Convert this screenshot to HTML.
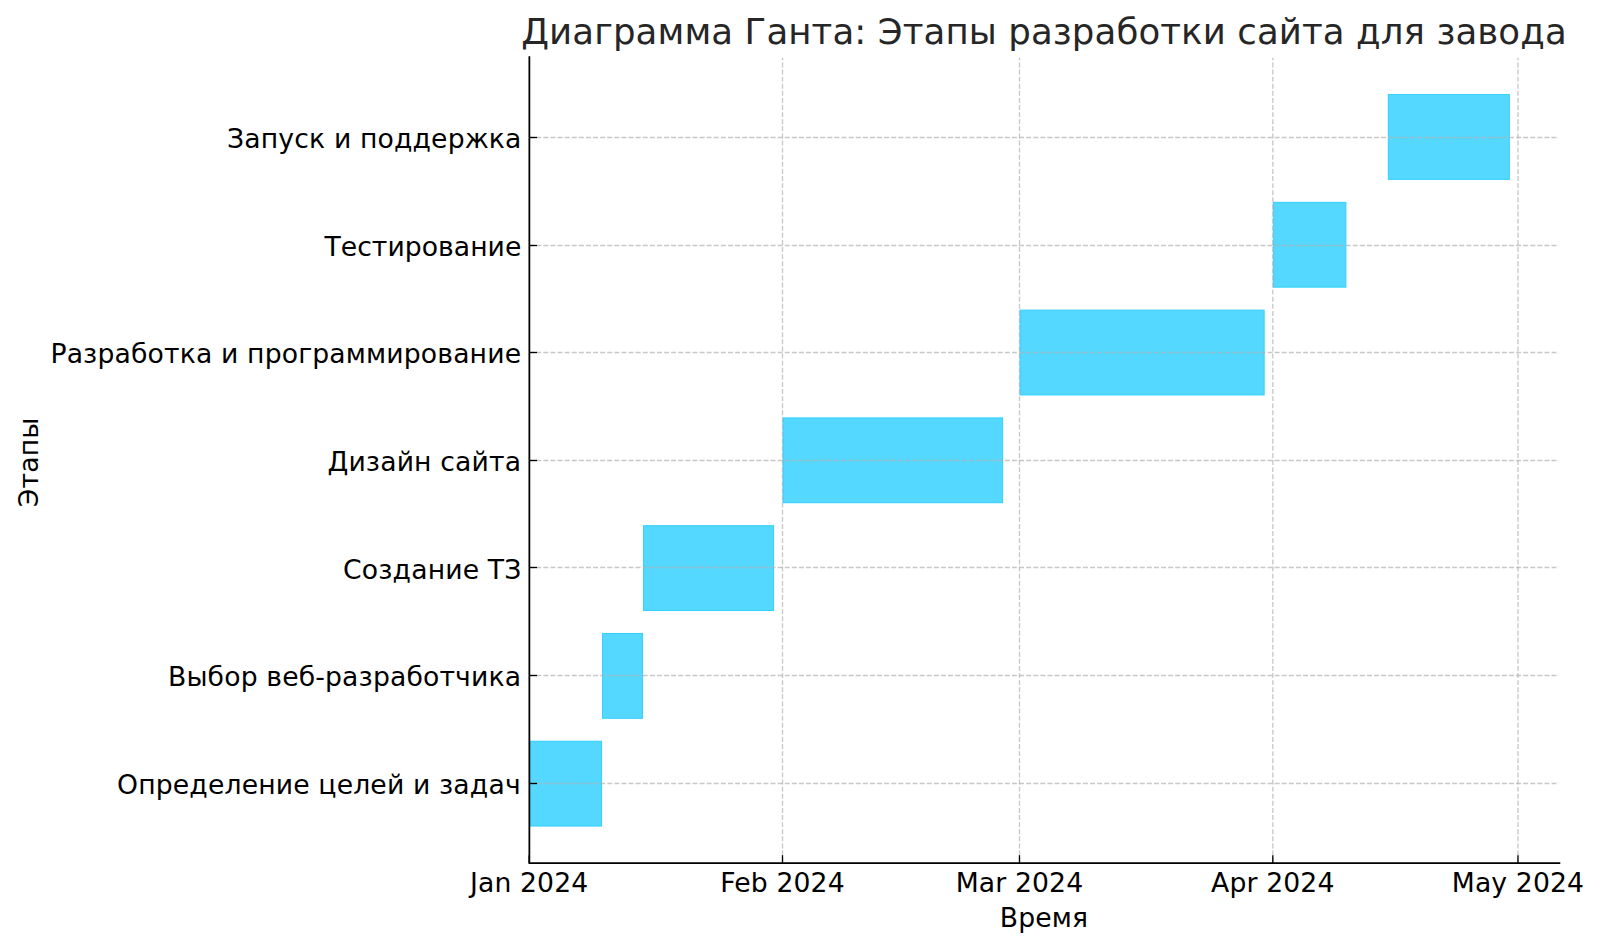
<!DOCTYPE html>
<html lang="ru"><head><meta charset="utf-8"><title>Диаграмма Ганта</title>
<style>
html,body{margin:0;padding:0;background:#fff;}
body{width:1600px;height:949px;overflow:hidden;}
svg{display:block;}
text{font-family:"DejaVu Sans","Liberation Sans",sans-serif;}
.tk{font-size:26.67px;fill:#000;letter-spacing:0.12px;}
.yl text{letter-spacing:0.14px;}
.ttl{font-size:35.56px;fill:#262626;letter-spacing:0.1px;}
.grid{stroke:#b0b0b0;stroke-opacity:.7;stroke-width:1.33;stroke-dasharray:4.95 2.15;fill:none;}
.ax{stroke:#000;stroke-width:1.78;fill:none;stroke-linecap:square;}
.tick{stroke:#000;stroke-width:1.33;fill:none;}
.bar{fill:#55d8ff;stroke:#30d0ff;stroke-width:1;}
</style></head><body>
<svg width="1600" height="949" viewBox="0 0 1600 949">
<rect width="1600" height="949" fill="#ffffff"/>

<g class="bar">
<rect x="529.67" y="741.25" width="71.89" height="84.80"/>
<rect x="602.56" y="633.47" width="40.02" height="84.80"/>
<rect x="643.59" y="525.69" width="130.00" height="84.80"/>
<rect x="783.00" y="417.91" width="219.64" height="84.80"/>
<rect x="1019.99" y="310.13" width="244.16" height="84.80"/>
<rect x="1273.32" y="202.35" width="72.55" height="84.80"/>
<rect x="1388.30" y="94.57" width="121.01" height="84.80"/>
</g>
<g class="grid">
<line x1="782.50" y1="862.6" x2="782.50" y2="57.8"/>
<line x1="1019.49" y1="862.6" x2="1019.49" y2="57.8"/>
<line x1="1272.82" y1="862.6" x2="1272.82" y2="57.8"/>
<line x1="1517.98" y1="862.6" x2="1517.98" y2="57.8"/>
<line x1="529.17" y1="783.50" x2="1558.9" y2="783.50"/>
<line x1="529.17" y1="675.50" x2="1558.9" y2="675.50"/>
<line x1="529.17" y1="567.50" x2="1558.9" y2="567.50"/>
<line x1="529.17" y1="460.50" x2="1558.9" y2="460.50"/>
<line x1="529.17" y1="352.50" x2="1558.9" y2="352.50"/>
<line x1="529.17" y1="245.50" x2="1558.9" y2="245.50"/>
<line x1="529.17" y1="137.50" x2="1558.9" y2="137.50"/>
</g>
<g class="tick">
<line x1="529.17" y1="863.1" x2="529.17" y2="855.20"/>
<line x1="782.50" y1="863.1" x2="782.50" y2="855.20"/>
<line x1="1019.49" y1="863.1" x2="1019.49" y2="855.20"/>
<line x1="1272.82" y1="863.1" x2="1272.82" y2="855.20"/>
<line x1="1517.98" y1="863.1" x2="1517.98" y2="855.20"/>
<line x1="529.17" y1="783.50" x2="537.07" y2="783.50"/>
<line x1="529.17" y1="675.50" x2="537.07" y2="675.50"/>
<line x1="529.17" y1="567.50" x2="537.07" y2="567.50"/>
<line x1="529.17" y1="460.50" x2="537.07" y2="460.50"/>
<line x1="529.17" y1="352.50" x2="537.07" y2="352.50"/>
<line x1="529.17" y1="245.50" x2="537.07" y2="245.50"/>
<line x1="529.17" y1="137.50" x2="537.07" y2="137.50"/>
</g>
<path class="ax" d="M529.37 57.10 V863.1 H1559.4"/>
<g class="tk yl" text-anchor="end">
<text x="520.8" y="794">Определение целей и задач</text>
<text x="521.2" y="686">Выбор веб-разработчика</text>
<text x="521.5" y="579">Создание ТЗ</text>
<text x="521.2" y="471">Дизайн сайта</text>
<text x="521.2" y="363">Разработка и программирование</text>
<text x="521.4" y="256" style="letter-spacing:0.03px">Тестирование</text>
<text x="521.6" y="148">Запуск и поддержка</text>
</g>
<g class="tk" text-anchor="middle">
<text x="529.17" y="892">Jan 2024</text>
<text x="782.50" y="892">Feb 2024</text>
<text x="1019.49" y="892">Mar 2024</text>
<text x="1272.82" y="892">Apr 2024</text>
<text x="1517.98" y="892">May 2024</text>
<text x="1044" y="927">Время</text>
<text transform="translate(38 462.4) rotate(-90)" x="0" y="0">Этапы</text>
</g>
<text class="ttl" text-anchor="middle" x="1044" y="44">Диаграмма Ганта: Этапы разработки сайта для завода</text>
</svg></body></html>
